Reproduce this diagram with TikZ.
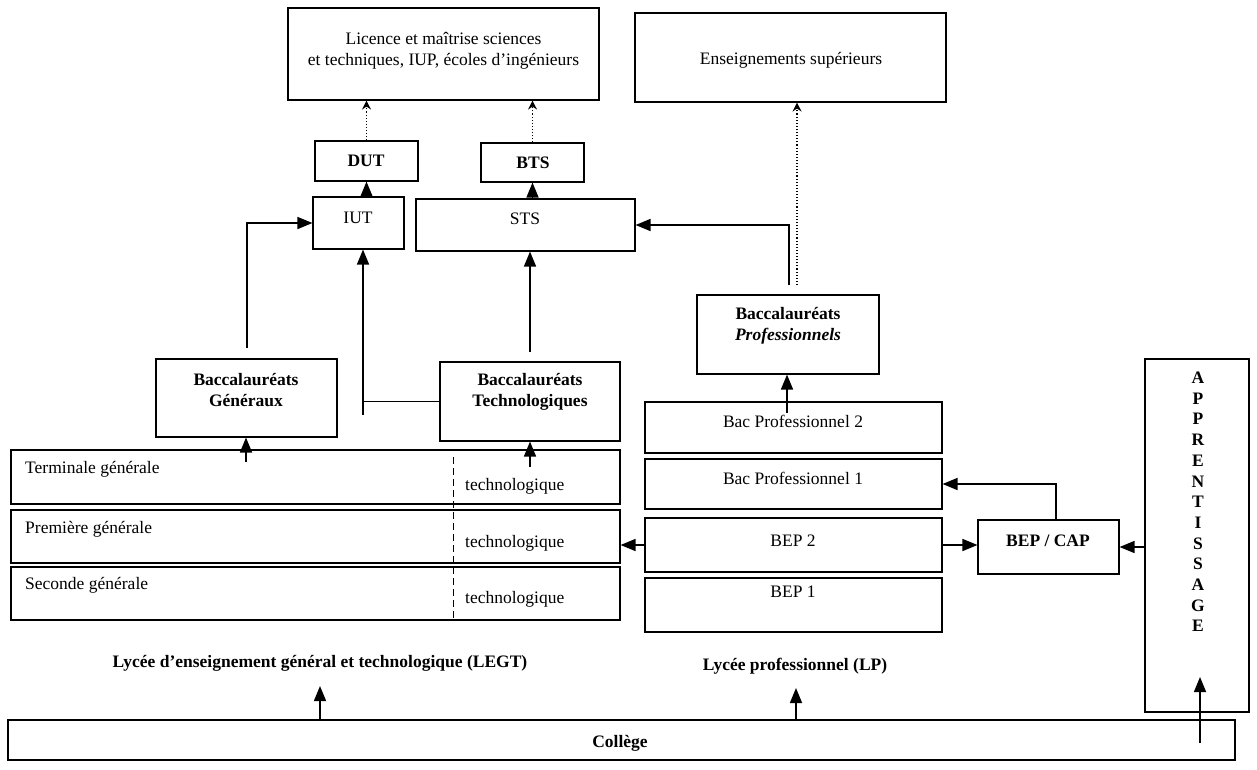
\documentclass[tikz,border=0pt]{standalone}
\usepackage{fontspec}
\setmainfont{Liberation Serif}
\usetikzlibrary{arrows.meta,fit}

\tikzset{
  box/.style={draw, line width=1.1pt, inner sep=0pt},
  txt/.style={inner sep=0pt, align=center, font=\fontsize{17.5}{21}\selectfont},
  btxt/.style={txt, font=\fontsize{17.5}{21}\selectfont\bfseries},
  arr/.style={line width=1.5pt, -{Triangle[length=15pt,width=12pt]}},
  darr/.style={line width=1.1pt, dotted, -{Stealth[length=9pt,width=9pt,inset=3pt]}},
  link/.style={line width=1.5pt}
}

\begin{document}
\begin{tikzpicture}[x=1pt,y=-1pt]
\useasboundingbox (0,0) rectangle (1257,769);

% enseignement superieur
\node[box, fit={(288,8) (599,100)}] (licence) {};
\node[txt] (licence-t) at (443.5,50.5) {Licence et maîtrise sciences\\et techniques, IUP, écoles d'ingénieurs};
\node[box, fit={(635,13) (946,102)}] (enssup) {};
\node[txt] (enssup-t) at (791,60) {Enseignements supérieurs};
\node[box, fit={(315,141) (418,181)}] (dut) {};
\node[btxt] (dut-t) at (366,161) {DUT};
\node[box, fit={(481,143) (584,182)}] (bts) {};
\node[btxt] (bts-t) at (533,163) {BTS};
\node[box, fit={(313,197) (404,249)}] (iut) {};
\node[txt] (iut-t) at (358,218) {IUT};
\node[box, fit={(416,199) (635,251)}] (sts) {};
\node[txt] (sts-t) at (525,219) {STS};

% baccalaureats
\node[box, fit={(156,359) (337,437)}] (bacgen) {};
\node[btxt] (bacgen-t) at (246,390) {Baccalauréats\\Généraux};
\node[box, fit={(440,362) (620,441)}] (bactech) {};
\node[btxt] (bactech-t) at (530,392) {Baccalauréats\\Technologiques};
\node[box, fit={(697,295) (879,374)}] (bacpro) {};
\node[btxt] (bacpro-t) at (788,326) {Baccalauréats\\\textit{Professionnels}};

% LEGT
\node[box, fit={(11,450) (620,504)}] (term) {};
\node[box, fit={(11,510) (620,563)}] (prem) {};
\node[box, fit={(11,567) (620,620)}] (sec) {};
\node[txt, anchor=west] (term-t) at (25,469) {Terminale générale};
\node[txt, anchor=west] (term-tech) at (465,486) {technologique};
\node[txt, anchor=west] (prem-t) at (25,529) {Première générale};
\node[txt, anchor=west] (prem-tech) at (465,543) {technologique};
\node[txt, anchor=west] (sec-t) at (25,585) {Seconde générale};
\node[txt, anchor=west] (sec-tech) at (465,599) {technologique};
\draw[line width=1pt, dash pattern=on 7pt off 4pt] (453,457) -- (453,618);
\node[btxt] (legt) at (320,663) {Lycée d'enseignement général et technologique (LEGT)};

% LP
\node[box, fit={(645,402) (942,453)}] (bacpro2) {};
\node[txt] (bacpro2-t) at (793,421) {Bac Professionnel 2};
\node[box, fit={(645,459) (942,509)}] (bacpro1) {};
\node[txt] (bacpro1-t) at (793,478) {Bac Professionnel 1};
\node[box, fit={(645,518) (942,572)}] (bep2) {};
\node[txt] (bep2-t) at (793,541) {BEP 2};
\node[box, fit={(645,578) (942,632)}] (bep1) {};
\node[txt] (bep1-t) at (793,592) {BEP 1};
\node[btxt] (lp) at (795,666) {Lycée professionnel (LP)};

\node[box, fit={(978,520) (1119,574)}] (bepcap) {};
\node[btxt] (bepcap-t) at (1048,541) {BEP / CAP};
\node[box, fit={(1145,359) (1249,712)}] (appr) {};
\node[btxt, font=\fontsize{17.5}{20.7}\selectfont\bfseries] (appr-t) at (1198,502) {A\\P\\P\\R\\E\\N\\T\\I\\S\\S\\A\\G\\E};

\node[box, fit={(8,720) (1235,760)}] (college) {};
\node[btxt] (college-t) at (620,743) {Collège};

% free ends
\coordinate (gen-up) at (247,348);
\coordinate (tech-up) at (530,352);
\coordinate (leg) at (363,415);
\coordinate (pro-st) at (789,285);
\coordinate (pro-up) at (797,285);
\coordinate (term-gen) at (246,462);
\coordinate (term-tec) at (530,467);
\coordinate (pro2-up) at (787,413);
\coordinate (legt-tip) at (320,686);
\coordinate (lp-tip) at (796,688);
\coordinate (app-in) at (1200,743);
\coordinate (app-tip) at (1200,677);

% connectors
\draw[darr] (dut.north) -- (dut.north |- licence.south);
\draw[darr] (bts.north) -- (bts.north |- licence.south);
\draw[darr] (pro-up) -- (pro-up |- enssup.south);
\draw[arr] (iut.north -| dut.south) -- (dut.south);
\draw[arr] (sts.north -| bts.south) -- (bts.south);

\draw[arr] (gen-up) |- (iut.west);
\draw[arr] (leg) -- (leg |- iut.south);
\draw[link] (bactech.west) -- (bactech.west -| leg);
\draw[arr] (tech-up) -- (tech-up |- sts.south);
\draw[arr] (pro-st) |- (sts.east);

\draw[arr] (term-gen) -- (term-gen |- bacgen.south);
\draw[arr] (term-tec) -- (term-tec |- bactech.south);
\draw[arr] (pro2-up) -- (pro2-up |- bacpro.south);

\draw[arr] ([xshift=7.5pt]bepcap.north) |- (bacpro1.east);
\draw[arr] (bep2.east) -- (bep2.east -| bepcap.west);
\draw[arr] (bepcap.east -| appr.west) -- (bepcap.east);
\draw[arr] (bep2.west) -- (bep2.west -| prem.east);

\draw[arr] (college.north -| legt-tip) -- (legt-tip);
\draw[arr] (college.north -| lp-tip) -- (lp-tip);
\draw[arr] (app-in) -- (app-tip);
\end{tikzpicture}
\end{document}
